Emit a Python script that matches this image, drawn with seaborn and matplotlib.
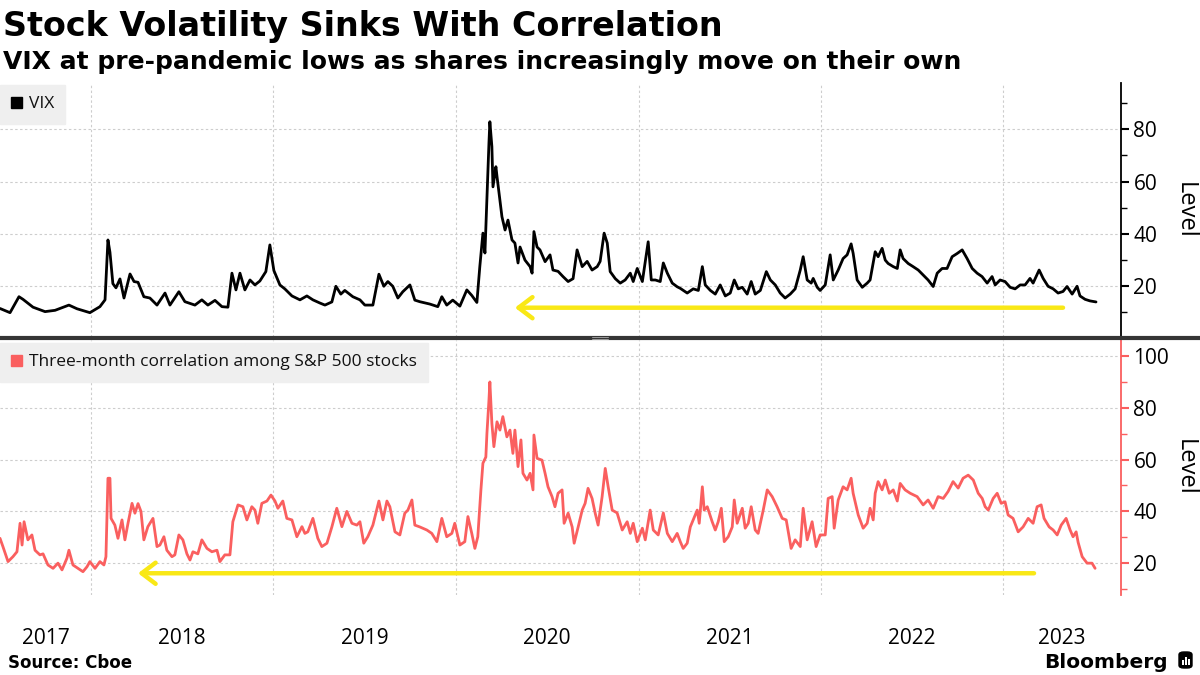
import numpy as np
import pandas as pd
import matplotlib
matplotlib.use("Agg")
import matplotlib.pyplot as plt
import seaborn as sns
from matplotlib.patches import Patch, FancyBboxPatch, Rectangle
from matplotlib.lines import Line2D

# ---------------- data (decimal-year dates) ----------------
vix_t = [
    2017.501, 2017.556, 2017.605, 2017.627, 2017.682, 2017.748, 2017.803, 2017.879, 2017.923, 2017.994,
    2018.049, 2018.077, 2018.093, 2018.104, 2018.120, 2018.137, 2018.159, 2018.181, 2018.214, 2018.236,
    2018.258, 2018.290, 2018.323, 2018.362, 2018.406, 2018.433, 2018.482, 2018.515, 2018.570, 2018.608,
    2018.641, 2018.680, 2018.718, 2018.751, 2018.773, 2018.795, 2018.817, 2018.844, 2018.872, 2018.899,
    2018.926, 2018.959, 2018.981, 2019.003, 2019.036, 2019.063, 2019.102, 2019.146, 2019.184, 2019.217,
    2019.255, 2019.283, 2019.321, 2019.343, 2019.370, 2019.392, 2019.436, 2019.475, 2019.502, 2019.546,
    2019.579, 2019.606, 2019.628, 2019.655, 2019.683, 2019.710, 2019.749, 2019.776, 2019.803, 2019.858,
    2019.902, 2019.924, 2019.951, 2019.984, 2020.023, 2020.061, 2020.088, 2020.116, 2020.132, 2020.149,
    2020.160, 2020.171, 2020.182, 2020.187, 2020.198, 2020.204, 2020.220, 2020.226, 2020.242, 2020.253,
    2020.270, 2020.286, 2020.308, 2020.324, 2020.341, 2020.352, 2020.379, 2020.407, 2020.418, 2020.428,
    2020.445, 2020.461, 2020.489, 2020.516, 2020.532, 2020.560, 2020.587, 2020.615, 2020.642, 2020.664,
    2020.692, 2020.719, 2020.746, 2020.774, 2020.790, 2020.812, 2020.829, 2020.845, 2020.873, 2020.900,
    2020.927, 2020.955, 2020.971, 2020.993, 2021.021, 2021.053, 2021.070, 2021.092, 2021.119, 2021.136,
    2021.158, 2021.185, 2021.212, 2021.229, 2021.267, 2021.300, 2021.328, 2021.350, 2021.366, 2021.394,
    2021.421, 2021.448, 2021.476, 2021.503, 2021.525, 2021.547, 2021.569, 2021.596, 2021.618, 2021.640,
    2021.668, 2021.701, 2021.723, 2021.750, 2021.777, 2021.804, 2021.832, 2021.859, 2021.887, 2021.903,
    2021.925, 2021.947, 2021.958, 2021.980, 2021.996, 2022.024, 2022.051, 2022.068, 2022.095, 2022.122,
    2022.144, 2022.166, 2022.177, 2022.199, 2022.227, 2022.254, 2022.270, 2022.298, 2022.314, 2022.336,
    2022.353, 2022.369, 2022.397, 2022.419, 2022.435, 2022.451, 2022.479, 2022.506, 2022.534, 2022.561,
    2022.588, 2022.616, 2022.638, 2022.665, 2022.692, 2022.720, 2022.747, 2022.775, 2022.802, 2022.830,
    2022.857, 2022.884, 2022.912, 2022.939, 2022.956, 2022.983, 2023.010, 2023.038, 2023.065, 2023.093,
    2023.120, 2023.147, 2023.164, 2023.197, 2023.219, 2023.246, 2023.274, 2023.301, 2023.328, 2023.350,
    2023.378, 2023.405, 2023.421, 2023.449, 2023.476, 2023.509,
]
vix_v = [
    11.5, 9.9, 16.0, 15.0, 12.0, 10.3, 10.8, 12.8, 11.4, 9.9,
    12.2, 14.8, 37.7, 33.0, 21.0, 19.4, 22.8, 15.5, 24.7, 21.8,
    21.5, 16.0, 15.5, 12.8, 17.4, 12.8, 17.9, 14.1, 12.8, 14.8,
    12.8, 14.6, 12.2, 12.0, 25.0, 18.6, 25.0, 18.6, 22.4, 20.5,
    22.0, 25.6, 35.8, 26.0, 20.5, 19.0, 16.3, 14.8, 16.3, 14.8,
    13.6, 12.8, 14.0, 20.0, 17.0, 18.4, 16.0, 14.8, 12.8, 12.8,
    24.6, 20.0, 21.8, 20.0, 15.5, 17.9, 20.5, 14.7, 14.1, 13.2,
    12.2, 16.0, 12.8, 14.7, 12.4, 18.6, 16.5, 13.8, 27.5, 40.3,
    32.7, 54.0, 74.8, 82.9, 73.4, 58.0, 65.7, 62.0, 53.0, 46.6,
    41.5, 45.3, 37.7, 36.5, 28.9, 35.0, 30.0, 27.5, 25.0, 40.9,
    35.0, 33.9, 29.4, 32.0, 26.2, 25.7, 23.7, 21.8, 22.9, 33.9,
    27.5, 29.5, 26.2, 27.5, 29.5, 40.3, 36.5, 25.6, 22.9, 21.2,
    22.4, 25.0, 21.8, 26.8, 21.8, 37.0, 22.4, 22.4, 21.8, 28.9,
    25.0, 21.2, 19.8, 19.2, 17.4, 19.0, 18.4, 27.5, 20.5, 18.4,
    17.0, 20.5, 16.3, 17.4, 22.4, 19.0, 19.6, 17.0, 21.8, 17.0,
    18.4, 25.6, 22.4, 20.5, 17.4, 15.5, 17.0, 19.0, 26.2, 31.3,
    22.4, 21.2, 23.0, 19.6, 18.4, 20.5, 32.0, 22.4, 26.2, 30.6,
    32.0, 36.2, 32.6, 22.4, 19.6, 21.2, 22.4, 33.2, 31.3, 34.5,
    30.0, 28.7, 27.5, 26.8, 33.9, 30.6, 28.7, 27.5, 26.2, 24.3,
    22.4, 19.9, 25.0, 26.8, 26.8, 31.3, 32.5, 33.9, 30.6, 26.8,
    25.0, 23.7, 21.2, 23.7, 20.5, 22.4, 21.8, 19.6, 19.0, 20.5,
    20.5, 23.0, 21.2, 26.2, 23.0, 20.0, 19.0, 17.4, 18.0, 19.9,
    17.0, 20.0, 16.3, 15.0, 14.4, 14.0,
]

corr_t = [
    2017.501, 2017.517, 2017.545, 2017.572, 2017.594, 2017.611, 2017.622, 2017.633, 2017.654, 2017.676,
    2017.693, 2017.720, 2017.737, 2017.764, 2017.792, 2017.819, 2017.841, 2017.868, 2017.879, 2017.901,
    2017.929, 2017.956, 2017.978, 2017.994, 2018.022, 2018.049, 2018.071, 2018.082, 2018.093, 2018.104,
    2018.110, 2018.131, 2018.148, 2018.170, 2018.186, 2018.203, 2018.225, 2018.241, 2018.258, 2018.274,
    2018.290, 2018.312, 2018.340, 2018.362, 2018.378, 2018.400, 2018.416, 2018.444, 2018.460, 2018.482,
    2018.504, 2018.526, 2018.543, 2018.559, 2018.586, 2018.608, 2018.636, 2018.663, 2018.691, 2018.707,
    2018.734, 2018.762, 2018.778, 2018.806, 2018.833, 2018.855, 2018.882, 2018.899, 2018.915, 2018.937,
    2018.965, 2018.987, 2019.009, 2019.025, 2019.052, 2019.074, 2019.102, 2019.129, 2019.157, 2019.173,
    2019.189, 2019.217, 2019.244, 2019.266, 2019.294, 2019.321, 2019.348, 2019.376, 2019.403, 2019.431,
    2019.458, 2019.475, 2019.496, 2019.518, 2019.546, 2019.579, 2019.601, 2019.623, 2019.639, 2019.667,
    2019.694, 2019.721, 2019.738, 2019.760, 2019.776, 2019.803, 2019.842, 2019.869, 2019.897, 2019.924,
    2019.951, 2019.979, 2019.995, 2020.023, 2020.050, 2020.067, 2020.088, 2020.105, 2020.121, 2020.138,
    2020.149, 2020.165, 2020.171, 2020.182, 2020.187, 2020.198, 2020.209, 2020.226, 2020.242, 2020.258,
    2020.280, 2020.297, 2020.313, 2020.324, 2020.341, 2020.357, 2020.368, 2020.390, 2020.407, 2020.423,
    2020.428, 2020.445, 2020.472, 2020.489, 2020.505, 2020.527, 2020.543, 2020.560, 2020.582, 2020.593,
    2020.615, 2020.637, 2020.648, 2020.670, 2020.692, 2020.708, 2020.724, 2020.746, 2020.763, 2020.779,
    2020.801, 2020.818, 2020.834, 2020.856, 2020.883, 2020.911, 2020.938, 2020.955, 2020.971, 2020.993,
    2021.021, 2021.037, 2021.064, 2021.081, 2021.108, 2021.136, 2021.158, 2021.185, 2021.212, 2021.229,
    2021.245, 2021.267, 2021.284, 2021.300, 2021.322, 2021.333, 2021.350, 2021.360, 2021.377, 2021.404,
    2021.421, 2021.437, 2021.454, 2021.470, 2021.492, 2021.514, 2021.525, 2021.541, 2021.569, 2021.585,
    2021.602, 2021.618, 2021.640, 2021.656, 2021.684, 2021.706, 2021.733, 2021.760, 2021.788, 2021.810,
    2021.837, 2021.859, 2021.887, 2021.903, 2021.925, 2021.952, 2021.974, 2021.996, 2022.024, 2022.040,
    2022.062, 2022.073, 2022.095, 2022.122, 2022.144, 2022.166, 2022.177, 2022.205, 2022.232, 2022.254,
    2022.270, 2022.287, 2022.298, 2022.314, 2022.336, 2022.353, 2022.375, 2022.397, 2022.419, 2022.435,
    2022.462, 2022.490, 2022.528, 2022.561, 2022.588, 2022.616, 2022.643, 2022.671, 2022.698, 2022.725,
    2022.753, 2022.780, 2022.808, 2022.836, 2022.863, 2022.885, 2022.901, 2022.918, 2022.945, 2022.967,
    2022.989, 2023.010, 2023.027, 2023.054, 2023.082, 2023.109, 2023.137, 2023.164, 2023.186, 2023.208,
    2023.224, 2023.252, 2023.274, 2023.296, 2023.318, 2023.345, 2023.367, 2023.383, 2023.400, 2023.411,
    2023.433, 2023.460, 2023.487, 2023.504,
]
corr_v = [
    29.6, 26.4, 20.6, 22.5, 24.4, 35.4, 27.0, 36.0, 29.0, 30.9,
    25.0, 23.2, 23.6, 19.3, 18.0, 20.0, 17.4, 21.9, 25.0, 19.3,
    18.0, 16.7, 18.6, 20.6, 18.0, 20.6, 19.3, 22.5, 52.8, 52.8,
    37.3, 34.7, 29.6, 36.7, 29.0, 35.4, 43.1, 39.3, 43.0, 40.0,
    29.0, 34.1, 37.3, 26.4, 27.0, 30.2, 25.0, 22.5, 23.2, 30.9,
    29.0, 23.6, 21.2, 24.4, 23.6, 29.0, 25.7, 24.4, 25.0, 20.6,
    23.2, 23.2, 36.0, 42.5, 41.8, 36.7, 41.8, 40.5, 35.4, 43.1,
    44.0, 46.3, 44.0, 41.2, 44.0, 37.3, 36.7, 30.2, 34.1, 31.5,
    32.1, 37.3, 29.6, 26.4, 27.7, 34.0, 41.2, 34.1, 40.0, 35.4,
    34.7, 36.0, 27.7, 30.2, 34.7, 44.0, 36.7, 44.0, 41.8, 32.1,
    30.9, 39.3, 40.5, 44.4, 34.7, 34.0, 32.8, 31.5, 28.3, 37.3,
    30.2, 31.5, 35.4, 27.0, 28.3, 38.0, 31.5, 25.7, 30.2, 48.3,
    58.6, 61.0, 70.2, 83.0, 90.0, 74.0, 65.0, 74.6, 71.4, 76.6,
    68.8, 71.4, 62.4, 71.4, 57.3, 67.6, 54.7, 52.1, 54.7, 48.3,
    69.5, 60.5, 59.8, 54.7, 49.5, 45.7, 41.8, 47.0, 48.3, 35.4,
    39.3, 34.0, 27.7, 34.0, 40.5, 43.1, 48.9, 45.0, 39.3, 34.7,
    45.7, 56.6, 49.5, 40.5, 39.4, 32.8, 36.0, 31.5, 35.4, 28.3,
    33.5, 29.0, 40.5, 32.8, 30.9, 39.4, 31.5, 28.3, 31.5, 28.3,
    25.7, 27.7, 34.0, 36.7, 40.5, 35.4, 49.5, 40.5, 41.8, 36.0,
    32.8, 36.0, 41.2, 28.3, 30.2, 34.0, 44.4, 35.4, 41.2, 33.5,
    35.4, 41.8, 32.8, 31.5, 40.5, 48.3, 45.7, 41.8, 37.3, 36.7,
    25.7, 29.0, 26.4, 41.2, 29.0, 36.0, 26.4, 30.9, 30.9, 45.0,
    45.7, 33.5, 44.4, 49.5, 48.3, 52.8, 47.0, 38.6, 33.5, 35.4,
    41.2, 36.7, 47.0, 51.5, 48.3, 52.1, 47.0, 48.3, 44.0, 50.8,
    48.3, 47.0, 45.7, 42.5, 44.4, 41.2, 45.7, 45.0, 47.7, 51.5,
    49.0, 52.8, 54.0, 52.1, 47.0, 45.0, 41.8, 40.5, 45.0, 47.0,
    43.1, 43.7, 38.6, 37.3, 32.1, 34.0, 37.3, 35.4, 41.8, 42.5,
    37.3, 34.0, 32.8, 30.9, 34.7, 37.3, 32.8, 30.2, 32.1, 28.0,
    22.5, 20.0, 20.0, 18.0,
]
assert len(vix_t) == len(vix_v) and len(corr_t) == len(corr_v)

year_labels = ["2017", "2018", "2019", "2020", "2021", "2022", "2023"]
x_range = [2017.501, 2023.646]
vix_ticks = [20, 40, 60, 80]
corr_ticks = [20, 40, 60, 80, 100]
vix_ylim = [0.6, 97.7]
corr_ylim = [7.7, 106.2]
# yellow "back to pre-pandemic levels" arrows: [right end, left end], level
arrow_top_t = [2023.328, 2020.324]
arrow_top_v = 11.8
arrow_bot_t = [2023.169, 2018.258]
arrow_bot_v = 16.1

title = "Stock Volatility Sinks With Correlation"
subtitle = "VIX at pre-pandemic lows as shares increasingly move on their own"
legend_top = "VIX"
legend_bot = "Three-month correlation among S&P 500 stocks"
source = "Source: Cboe"

RED = "#fa5f5f"
YELLOW = "#f9e816"
GRID = "#cdcdcd"


def to_date(t):
    y = int(np.floor(t))
    s = pd.Timestamp(year=y, month=1, day=1)
    e = pd.Timestamp(year=y + 1, month=1, day=1)
    return s + (e - s) * (t - y)


df_vix = pd.DataFrame({"date": [to_date(t) for t in vix_t], "value": vix_v})
df_corr = pd.DataFrame({"date": [to_date(t) for t in corr_t], "value": corr_v})

sns.set_style("white")
plt.rcParams["font.family"] = ["Open Sans", "DejaVu Sans"]
for k in ["text.color", "axes.labelcolor", "xtick.color", "ytick.color"]:
    plt.rcParams[k] = "black"

W, H = 1200, 675
fig = plt.figure(figsize=(12, 6.75), dpi=100)


def fx(px):
    return px / W


def fy(py):
    return 1 - py / H


ax1 = fig.add_axes([0, fy(337), fx(1121), fy(83) - fy(337)])
ax2 = fig.add_axes([0, fy(595), fx(1121), fy(340) - fy(595)])

sns.lineplot(data=df_vix, x="date", y="value", ax=ax1, color="black", lw=2.0)
sns.lineplot(data=df_corr, x="date", y="value", ax=ax2, color=RED, lw=2.0)

xs = to_date(x_range[0])
xe = to_date(x_range[1])
year_starts = [pd.Timestamp(year=int(y), month=1, day=1) for y in year_labels[1:]]
bounds = [xs] + year_starts + [xe]
mids = [bounds[i] + (bounds[i + 1] - bounds[i]) / 2 for i in range(len(bounds) - 1)]

for ax, ticks, ylim, col in [(ax1, vix_ticks, vix_ylim, "black"), (ax2, corr_ticks, corr_ylim, RED)]:
    ax.set_xlim(xs, xe)
    ax.set_ylim(*ylim)
    for s in ["top", "left", "bottom"]:
        ax.spines[s].set_visible(False)
    ax.spines["right"].set_color(col)
    ax.spines["right"].set_linewidth(1.3)
    ax.yaxis.tick_right()
    ax.set_yticks(ticks)
    minors = [t - 10 for t in ticks] + [ticks[-1] + 10]
    ax.set_yticks([m for m in minors if ylim[0] < m < ylim[1]], minor=True)
    ax.tick_params(axis="y", which="major", direction="out", length=6, width=1.5,
                   color=col, labelcolor="black", labelsize=15, pad=3)
    ax.tick_params(axis="y", which="minor", direction="out", length=4, width=1.0, color=col)
    ax.set_xticks(year_starts)
    ax.set_xticklabels([""] * len(year_starts))
    ax.tick_params(axis="x", which="both", length=0)
    ax.grid(True, which="major", axis="both", color=GRID, linestyle=(0, (2.2, 2.2)), lw=0.8)
    ax.set_xlabel("")
    ax.set_ylabel("Level", rotation=270, fontsize=17, va="center", color="black")
    ax.yaxis.set_label_coords(1185 / 1121, 0.5)
    ax.set_facecolor("white")

ax2.set_xticks(mids, minor=True)
ax2.set_xticklabels(year_labels, minor=True)
ax2.tick_params(axis="x", which="minor", length=0, pad=24, labelsize=15, labelcolor="black")

# arrows
for ax, tt, vv in [(ax1, arrow_top_t, arrow_top_v), (ax2, arrow_bot_t, arrow_bot_v)]:
    ax.annotate("", xy=(to_date(tt[1]), vv), xytext=(to_date(tt[0]), vv),
                arrowprops=dict(arrowstyle="->,head_length=0.5,head_width=0.38",
                                color=YELLOW, lw=3.2, mutation_scale=20,
                                shrinkA=0, shrinkB=0), zorder=5)

# legends
leg_kw = dict(loc="upper left", bbox_transform=fig.transFigure, borderaxespad=0, frameon=True,
              fancybox=False, facecolor="#efefef", edgecolor="#efefef", framealpha=1,
              handlelength=0.6, handleheight=0.6, handletextpad=0.4, borderpad=0.65,
              fontsize=12.5, labelcolor="#111111")
ax1.legend(handles=[Patch(facecolor="black", edgecolor="black", label=legend_top)],
           bbox_to_anchor=(fx(0), fy(85)), **leg_kw)
ax2.legend(handles=[Patch(facecolor=RED, edgecolor=RED, label=legend_bot)],
           bbox_to_anchor=(fx(0), fy(343)), **leg_kw)

# divider between panels
fig.add_artist(Line2D([0, 1], [fy(338), fy(338)], transform=fig.transFigure, color="#353535", lw=3.0))
for yy in [337.2, 339.0]:
    fig.add_artist(Line2D([fx(592), fx(608)], [fy(yy), fy(yy)], transform=fig.transFigure,
                          color="#9a9a9a", lw=0.7))

# titles and footer
fig.text(fx(3), fy(36), title, fontsize=24, fontweight="bold", family="DejaVu Sans",
         va="baseline", color="black")
fig.text(fx(3), fy(69), subtitle, fontsize=18, fontweight="bold", family="DejaVu Sans",
         va="baseline", color="black")
fig.text(fx(8), fy(668), source, fontsize=12, fontweight="bold", family="DejaVu Sans",
         va="baseline", color="black")
fig.text(fx(1168), fy(668), "Bloomberg", fontsize=14.5, fontweight="bold", family="DejaVu Sans",
         va="baseline", ha="right", color="black")
fig.add_artist(FancyBboxPatch((fx(1179), fy(668)), fx(13), fy(652) - fy(668),
                              boxstyle="round,pad=0,rounding_size=0.004", transform=fig.transFigure,
                              facecolor="black", edgecolor="black"))
for bx, bh in [(1182, 5), (1185, 8), (1188, 6)]:
    fig.add_artist(Rectangle((fx(bx), fy(665)), fx(1.6), fy(665 - bh) - fy(665),
                             transform=fig.transFigure, facecolor="white", edgecolor="none"))

fig.savefig("out.png", dpi=100, facecolor="white")
